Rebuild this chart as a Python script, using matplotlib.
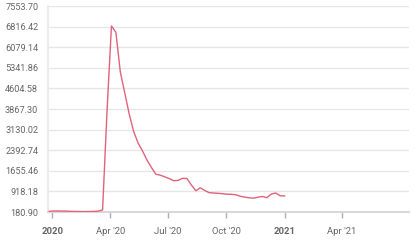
import numpy as np
import pandas as pd
import matplotlib
matplotlib.use("Agg")
import matplotlib.pyplot as plt
import matplotlib.dates as mdates

plt.rcParams["font.family"] = ["Roboto", "DejaVu Sans"]

# weekly series, Dec 27 2019 .. Jan 1 2021
dates = pd.date_range("2019-12-27", periods=54, freq="7D")
values = [206, 217, 217, 213, 210, 202, 199, 197, 195, 199,
          202, 213, 252, 3760, 6838, 6612, 5192, 4440, 3688, 3062,
          2650, 2364, 2042, 1774, 1534, 1498, 1441, 1376, 1301, 1312,
          1387, 1380, 1147, 943, 1047, 954, 872, 861, 850, 836,
          818, 815, 797, 746, 714, 689, 675, 711, 736, 693,
          825, 861, 761, 754]

ytick_vals = [180.90, 918.18, 1655.46, 2392.74, 3130.02, 3867.30,
              4604.58, 5341.86, 6079.14, 6816.42, 7553.70]
xtick_dates = pd.to_datetime(["2020-01-01", "2020-04-01", "2020-07-01",
                              "2020-10-01", "2021-01-01", "2021-04-01"])
xtick_labels = ["2020", "Apr '20", "Jul '20", "Oct '20", "2021", "Apr '21"]

fig = plt.figure(figsize=(4.2, 2.49), dpi=100)
ax = fig.add_axes([48 / 420, 37 / 249, 361 / 420, 206 / 249])

ax.plot(dates, values, color="#e0637a", lw=1.0, zorder=3)

ax.set_ylim(180.90, 7553.70)
ax.set_xlim(pd.Timestamp("2019-12-25"), pd.Timestamp("2021-07-16"))

ax.set_yticks(ytick_vals)
ax.set_yticklabels([f"{v:.2f}" for v in ytick_vals])
ax.set_xticks(xtick_dates)
ax.set_xticklabels(xtick_labels)
for lbl in ax.get_xticklabels():
    if lbl.get_text() in ("2020", "2021"):
        lbl.set_fontweight("bold")

ax.grid(axis="y", color="#e6e6e6", lw=1)
ax.set_axisbelow(True)
for s in ["top", "right"]:
    ax.spines[s].set_visible(False)
ax.spines["left"].set_color("#ececec")
ax.spines["left"].set_linewidth(1.5)
ax.spines["bottom"].set_color("#d8d8d8")
ax.spines["bottom"].set_linewidth(1.5)

ax.tick_params(axis="y", length=0, pad=7, labelsize=6.6, labelcolor="#666666")
ax.tick_params(axis="x", length=4, width=1, color="#a8b0c0", pad=7,
               labelsize=6.8, labelcolor="#666666")

fig.savefig("out.png", dpi=100)
